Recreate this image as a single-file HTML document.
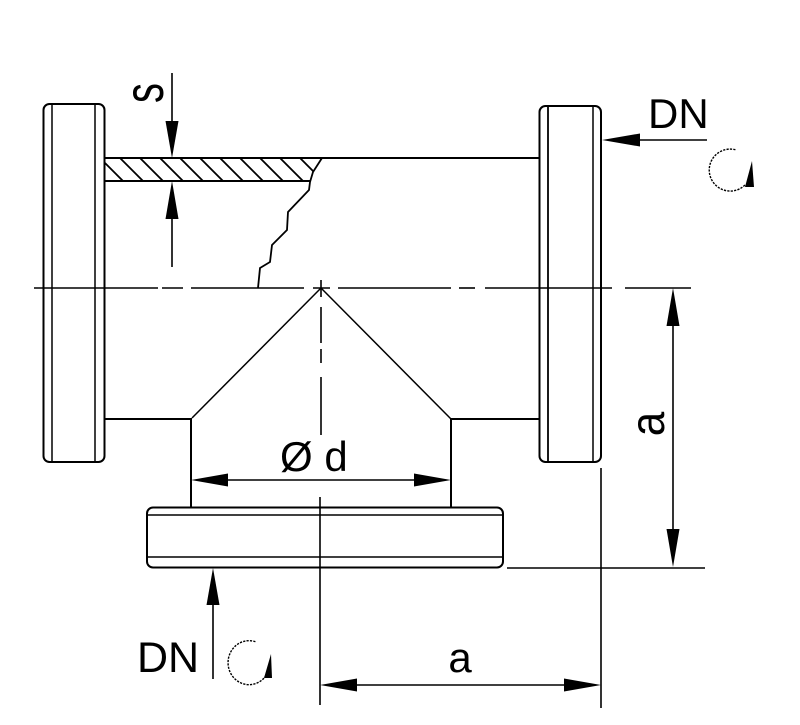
<!DOCTYPE html>
<html><head><meta charset="utf-8"><style>
html,body{margin:0;padding:0;background:#fff;}
svg{display:block;}
text{font-family:"Liberation Sans",Arial,sans-serif;fill:#000;}
</style></head><body>
<svg width="800" height="725" viewBox="0 0 800 725" xmlns="http://www.w3.org/2000/svg">
<defs>
<clipPath id="hc"><polygon points="104,158 322,158 313,172 310,181 104,181"/></clipPath>
</defs>
<g fill="none" stroke="#000" stroke-linecap="butt">
<!-- left flange -->
<rect x="43.5" y="104" width="61" height="358" rx="6" stroke-width="2"/>
<line x1="52" y1="104" x2="52" y2="462" stroke-width="1.5"/>
<line x1="95" y1="104" x2="95" y2="462" stroke-width="1.5"/>
<!-- right flange -->
<rect x="539.5" y="106" width="61.5" height="356" rx="6" stroke-width="2"/>
<line x1="548" y1="106" x2="548" y2="462" stroke-width="1.8"/>
<line x1="593" y1="106" x2="593" y2="462" stroke-width="1.5"/>
<!-- bottom flange -->
<rect x="147" y="507.5" width="356" height="60" rx="6" stroke-width="2"/>
<line x1="147" y1="515" x2="503" y2="515" stroke-width="1.5"/>
<line x1="147" y1="557" x2="503" y2="557" stroke-width="1.5"/>
<!-- pipe body -->
<line x1="104" y1="158" x2="539" y2="158" stroke-width="2"/>
<line x1="104" y1="181" x2="311" y2="181" stroke-width="2"/>
<polyline points="322,158 313,172 310,182 309,190 288,212 287,230 272,245 270,262 260,268 258,288" stroke-width="1.8"/>
<line x1="104" y1="419" x2="192" y2="419" stroke-width="2"/>
<line x1="451" y1="419" x2="539" y2="419" stroke-width="2"/>
<line x1="191" y1="419" x2="191" y2="507" stroke-width="2"/>
<line x1="451" y1="419" x2="451" y2="507" stroke-width="2"/>
<line x1="192" y1="418" x2="321" y2="288" stroke-width="1.5"/>
<line x1="321" y1="288" x2="451" y2="419" stroke-width="1.5"/>
<!-- hatch -->
<g clip-path="url(#hc)" stroke-width="1.8">
<line x1="100" y1="158" x2="123" y2="181"/>
<line x1="120" y1="158" x2="143" y2="181"/>
<line x1="140" y1="158" x2="163" y2="181"/>
<line x1="160" y1="158" x2="183" y2="181"/>
<line x1="180" y1="158" x2="203" y2="181"/>
<line x1="200" y1="158" x2="223" y2="181"/>
<line x1="220" y1="158" x2="243" y2="181"/>
<line x1="240" y1="158" x2="263" y2="181"/>
<line x1="260" y1="158" x2="283" y2="181"/>
<line x1="280" y1="158" x2="303" y2="181"/>
<line x1="300" y1="158" x2="323" y2="181"/>
<line x1="320" y1="158" x2="343" y2="181"/>
</g>
<!-- horizontal centerline -->
<g stroke-width="1.6">
<line x1="34" y1="288" x2="158" y2="288"/>
<line x1="162" y1="288" x2="183" y2="288"/>
<line x1="191" y1="288" x2="304" y2="288"/>
<line x1="313" y1="288" x2="330" y2="288"/>
<line x1="338" y1="288" x2="451" y2="288"/>
<line x1="459" y1="288" x2="475" y2="288"/>
<line x1="485" y1="288" x2="612" y2="288"/>
<line x1="625" y1="288" x2="691" y2="288"/>
<!-- vertical centerline -->
<line x1="321" y1="280" x2="321" y2="297"/>
<line x1="321" y1="307" x2="321" y2="343"/>
<line x1="321" y1="349" x2="321" y2="363"/>
<line x1="321" y1="377" x2="321" y2="435"/>
<line x1="320" y1="497" x2="320" y2="705"/>
</g>
<!-- dimension and extension lines -->
<g stroke-width="1.6">
<line x1="172" y1="73" x2="172" y2="150"/>
<line x1="172" y1="190" x2="172" y2="267"/>
<line x1="610" y1="140" x2="707" y2="140"/>
<line x1="200" y1="480" x2="442" y2="480"/>
<line x1="673" y1="296" x2="673" y2="560"/>
<line x1="507" y1="568" x2="705" y2="568"/>
<line x1="601" y1="468" x2="601" y2="708"/>
<line x1="328" y1="685" x2="593" y2="685"/>
<line x1="213" y1="576" x2="213" y2="679"/>
</g>
<!-- rotation symbols -->
<path d="M735.4,149.7 A21,21 0 1 0 745,185" stroke-width="1.4" stroke-dasharray="2.2 1.2"/>
<path d="M255.4,641.7 A21,22 0 1 0 265,677" stroke-width="1.4" stroke-dasharray="2.2 1.2"/>
</g>
<!-- arrowheads -->
<g fill="#000" stroke="none">
<polygon points="172,158 165.5,121 178.5,121"/>
<polygon points="172,181 165.5,219 178.5,219"/>
<polygon points="602,140 640,133.5 640,146.5"/>
<polygon points="191,480 228,473.5 228,486.5"/>
<polygon points="451,480 414,473.5 414,486.5"/>
<polygon points="673,288 666.5,326 679.5,326"/>
<polygon points="673,567 666.5,529 679.5,529"/>
<polygon points="320,685 357,678.5 357,691.5"/>
<polygon points="601,685 564,678.5 564,691.5"/>
<polygon points="213,568 206.5,605 219.5,605"/>
<polygon points="752,161 745,187 754,187"/>
<polygon points="271,654 264,678 272,678"/>
</g>
<!-- labels -->
<text x="648" y="128" font-size="42">DN</text>
<text x="137" y="672" font-size="43">DN</text>
<text x="280" y="471" font-size="42">Ø d</text>
<text x="460" y="672" font-size="42" text-anchor="middle">a</text>
<text transform="translate(163,93) rotate(-90) scale(1,1.4)" font-size="40" text-anchor="middle">s</text>
<text transform="translate(664,424) rotate(-90) scale(1,1.1)" font-size="44" text-anchor="middle">a</text>
</svg>
</body></html>
